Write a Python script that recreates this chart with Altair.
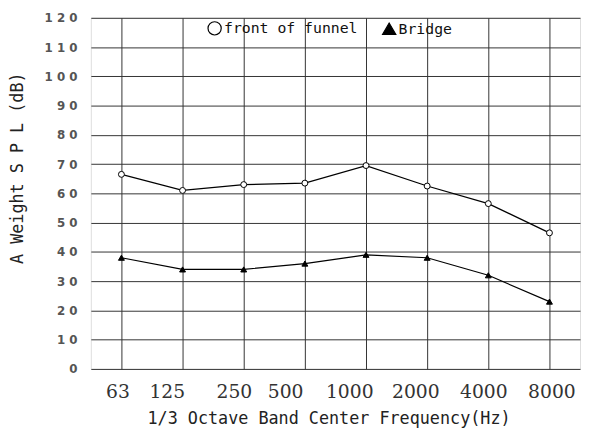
import altair as alt
import pandas as pd

freqs = ["63", "125", "250", "500", "1000", "2000", "4000", "8000"]
front_of_funnel = [66.5, 61, 63, 63.5, 69.5, 62.5, 56.5, 46.5]
bridge = [38, 34, 34, 36, 39, 38, 32, 23]
series = ["front of funnel", "Bridge"]
label_offsets = [-4, -16, -10, -20, -17, -12, -5, 2]

rows = []
for f, v in zip(freqs, front_of_funnel):
    rows.append({"freq": f, "spl": v, "series": series[0]})
for f, v in zip(freqs, bridge):
    rows.append({"freq": f, "spl": v, "series": series[1]})
df = pd.DataFrame(rows)

offset_expr = ""
for f, o in zip(freqs, label_offsets):
    offset_expr += f"datum.value == '{f}' ? {o} : "
offset_expr += "0"

x_enc = alt.X(
    "freq:N",
    sort=freqs,
    scale=alt.Scale(type="point", padding=0.5),
    axis=alt.Axis(
        title="1/3 Octave Band Center Frequency(Hz)",
        titleFont="DejaVu Sans Mono",
        titleFontSize=17,
        titleFontWeight="normal",
        titleColor="#222",
        titleX=241,
        titleY=50,
        titleBaseline="middle",
        titleAlign="center",
        labelFont="DejaVu Serif",
        labelFontSize=19,
        labelColor="#333",
        labelAngle=0,
        labelPadding=14,
        labelOffset={"expr": offset_expr},
        ticks=False,
        domain=False,
        grid=True,
        gridColor="#333",
        gridWidth=1,
    ),
)

y_enc = alt.Y(
    "spl:Q",
    scale=alt.Scale(domain=[0, 120], nice=False),
    axis=alt.Axis(
        title="A Weight S P L (dB)",
        titleFont="DejaVu Sans Mono",
        titleFontSize=17,
        titleFontWeight="normal",
        titleColor="#222",
        titleAngle=270,
        titleX=-74,
        titleY=152,
        titleBaseline="middle",
        titleAlign="center",
        values=list(range(0, 121, 10)),
        labelExpr="join(split(datum.label, ''), ' ')",
        labelFont="DejaVu Sans",
        labelFontSize=12,
        labelFontWeight="bold",
        labelColor="#555",
        labelPadding=14,
        labelBaseline="middle",
        labelOverlap=False,
        ticks=False,
        domain=False,
        grid=True,
        gridColor="#333",
        gridWidth=1,
    ),
)

legend = alt.Legend(
    orient="none",
    legendX=118,
    legendY=3,
    direction="horizontal",
    labelFont="DejaVu Sans Mono",
    labelFontSize=15,
    labelColor="#111",
    labelOffset=2,
    columnPadding=22,
    symbolSize=180,
    symbolStrokeColor="black",
    symbolStrokeWidth=1.2,
)

base = alt.Chart(df).encode(x=x_enc, y=y_enc)

lines = base.mark_line(strokeWidth=1.2, color="black").encode(detail="series:N")

points = base.mark_point(strokeWidth=1, size=36, opacity=1).encode(
    shape=alt.Shape("series:N", title=None, scale=alt.Scale(domain=series, range=["circle", "triangle-up"]), legend=legend),
    fill=alt.Fill("series:N", title=None, scale=alt.Scale(domain=series, range=["white", "black"]), legend=legend),
    stroke=alt.Stroke("series:N", title=None, scale=alt.Scale(domain=series, range=["black", "black"]), legend=legend),
)

chart = (
    alt.layer(lines, points)
    .properties(
        width=496,
        height=356,
        autosize=alt.AutoSizeParams(type="none"),
        padding={"left": 84, "top": 7, "right": 2, "bottom": 60},
    )
    .configure_view(stroke="black", strokeWidth=2)
    .configure(background="white")
)

chart.save("out.html", embed_options={"renderer": "svg", "actions": False})
